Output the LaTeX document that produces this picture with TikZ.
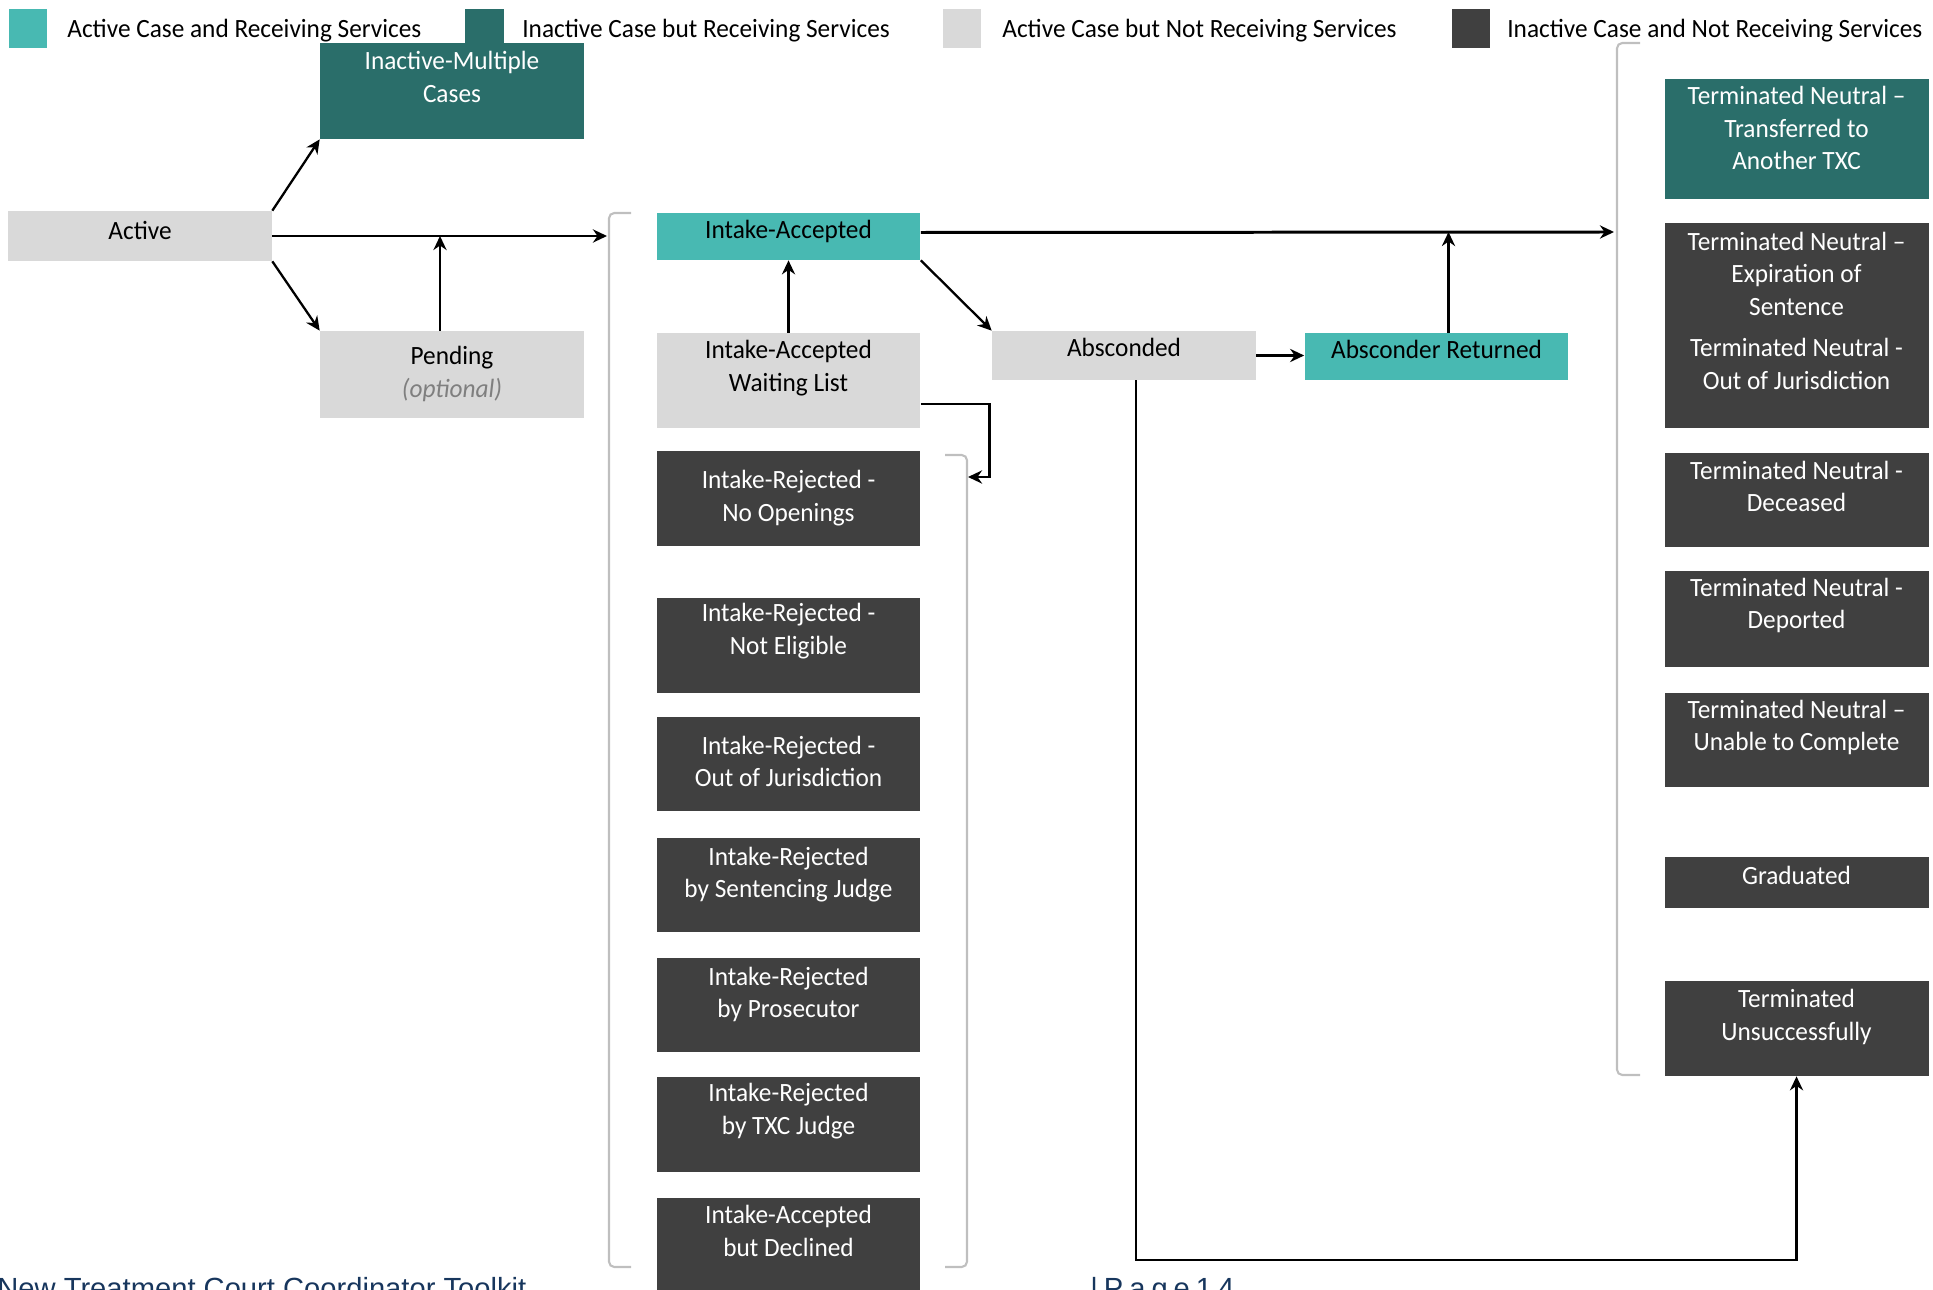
\documentclass[tikz,border=0pt]{standalone}
\usepackage{fontspec}
\setmainfont{Carlito}[FakeStretch=0.96]
\newfontfamily\footfont{Liberation Sans}
\usetikzlibrary{positioning,calc,arrows.meta}

\definecolor{ltteal}{RGB}{72,185,178}
\definecolor{dkteal}{RGB}{42,110,106}
\definecolor{ltgray}{RGB}{217,217,217}
\definecolor{dkgray}{RGB}{64,64,64}
\definecolor{brgray}{RGB}{191,191,191}
\definecolor{optgray}{RGB}{127,127,127}
\definecolor{footblue}{RGB}{23,54,93}

% text of a state box, optionally lifted towards the top
\newcommand{\boxtext}[2][0pt]{\raisebox{#1}[\height][\depth]{\begin{tabular}{@{}c@{}}#2\end{tabular}}}

\begin{document}
\begin{tikzpicture}[x=0.02cm,y=-0.02cm,
    font=\fontsize{15pt}{18.5pt}\selectfont,
    statebox/.style={rectangle,inner sep=0pt,minimum width=5.28cm,minimum height=1.9cm},
    ltbox/.style={statebox,fill=ltgray,text=black},
    acbox/.style={statebox,fill=ltteal,text=black},
    ibox/.style={statebox,fill=dkteal,text=white},
    dkbox/.style={statebox,fill=dkgray,text=white},
    swatch/.style={rectangle,inner sep=0pt,minimum size=0.77cm},
    legtxt/.style={inner sep=0pt,anchor=base west},
    foottxt/.style={inner sep=0pt,anchor=base west,text=footblue,font=\footfont\fontsize{16.6pt}{20pt}\selectfont},
    arr/.style={-{Stealth[length=8pt,width=7.5pt]},line width=1.3pt},
    bracket/.style={draw=brgray,line width=1.2pt,rounded corners=3pt}]
  \useasboundingbox (0,0) rectangle (1933,1290);

  % legend
  \node[swatch,fill=ltteal] (sw1) at (28,28.5) {};
  \node[swatch,fill=dkteal] (sw2) at (484.5,28.5) {};
  \node[swatch,fill=ltgray] (sw3) at (962,28.5) {};
  \node[swatch,fill=dkgray] (sw4) at (1471,28.5) {};
  \node[legtxt] (lg1) at (67,38) {Active Case and Receiving Services};
  \node[legtxt] (lg2) at (522,38) {Inactive Case but Receiving Services};
  \node[legtxt] (lg3) at (1002,38) {Active Case but Not Receiving Services};
  \node[legtxt] (lg4) at (1507,38) {Inactive Case and Not Receiving Services};

  % brackets
  \draw[bracket] (631,213) -- (609,213) -- (609,1267) -- (631,1267);
  \draw[bracket] (945,455) -- (967,455) -- (967,1267) -- (945,1267);
  \draw[bracket] (1640,43) -- (1617,43) -- (1617,1075) -- (1640,1075);

  % first column
  \node[ltbox,minimum height=1cm] (act) at (140,236) {\boxtext[1.5pt]{Active}};
  \node[ibox,minimum height=1.92cm] (imc) at (452,91) {\boxtext[6.5pt]{Inactive-Multiple\\Cases}};
  \node[ltbox,minimum height=1.74cm] (pend) at (452,374.5) {\boxtext{Pending\\{\color{optgray}\itshape (optional)}}};

  % intake column
  \node[acbox,minimum height=0.94cm] (ia) at (788.5,236.5) {\boxtext[2.5pt]{Intake-Accepted}};
  \node[ltbox] (iawl) at (788.5,380.5) {\boxtext[6.8pt]{Intake-Accepted\\Waiting List}};
  \node[dkbox] (ir1) at (788.5,498.5) {\boxtext{Intake-Rejected -\\No Openings}};
  \node[dkbox] (ir2) at (788.5,645.5) {\boxtext[8pt]{Intake-Rejected -\\Not Eligible}};
  \node[dkbox] (ir3) at (788.5,764) {\boxtext{Intake-Rejected -\\Out of Jurisdiction}};
  \node[dkbox] (ir4) at (788.5,885) {\boxtext[5.7pt]{Intake-Rejected\\by Sentencing Judge}};
  \node[dkbox] (ir5) at (788.5,1005) {\boxtext[5.7pt]{Intake-Rejected\\by Prosecutor}};
  \node[dkbox] (ir6) at (788.5,1124) {\boxtext[7pt]{Intake-Rejected\\by TXC Judge}};
  \node[dkbox] (ir7) at (788.5,1245) {\boxtext[6.5pt]{Intake-Accepted\\but Declined}};

  % absconding
  \node[ltbox,minimum height=0.98cm] (absc) at (1124,355.5) {\boxtext[3.4pt]{Absconded}};
  \node[acbox,minimum height=0.94cm] (absr) at (1436.5,356.5) {\boxtext[2.5pt]{Absconder Returned}};

  % exits
  \node[ibox,minimum height=2.4cm] (tn1) at (1796.5,139) {\boxtext[4.8pt]{Terminated Neutral --\\Transferred to\\Another TXC}};
  \node[dkbox,minimum height=4.1cm] (tn2) at (1796.5,325.5) {\boxtext[7pt]{Terminated Neutral --\\Expiration of\\Sentence\\[5pt]Terminated Neutral -\\Out of Jurisdiction}};
  \node[dkbox] (tn3) at (1796.5,500) {\boxtext[6.3pt]{Terminated Neutral -\\Deceased}};
  \node[dkbox,minimum height=1.92cm] (tn4) at (1796.5,619) {\boxtext[7.4pt]{Terminated Neutral -\\Deported}};
  \node[dkbox] (tn5) at (1796.5,740) {\boxtext[6.8pt]{Terminated Neutral --\\Unable to Complete}};
  \node[dkbox,minimum height=1.02cm] (grad) at (1796.5,882.5) {\boxtext[2.8pt]{Graduated}};
  \node[dkbox] (tu) at (1796.5,1028.5) {\boxtext[6.3pt]{Terminated\\Unsuccessfully}};

  % connectors
  \coordinate (lbr) at (607,236);
  \coordinate (rbr) at (1614,232);
  \coordinate (mbr) at (968,477);
  \draw[arr] (act.north east) -- (imc.south west);
  \draw[arr] (act.south east) -- (pend.north west);
  \draw[arr,line width=1.7pt] (act.east) -- (lbr);
  \draw[arr] ([xshift=-0.24cm]pend.north) -- ([xshift=-0.24cm]pend.north |- act.east);
  \draw[arr,line width=1.7pt] ([yshift=0.08cm]ia.east) -- (rbr);
  \draw[arr] (iawl.north) -- (ia.south);
  \draw[arr] (ia.south east) -- (absc.north west);
  \draw[arr,line width=1.6pt] ([yshift=-0.47cm]iawl.east) -- ++(69,0) |- (mbr);
  \draw[arr,line width=1.6pt] (absc.east) -- (absc.east -| absr.west);
  \draw[arr] ([xshift=0.24cm]absr.north) -- ([xshift=0.24cm]absr.north |- rbr);
  \draw[arr] ([xshift=0.24cm]absc.south) -- ++(0,880) -| (tu.south);

  % footer
  \node[foottxt] (foot) at (-3,1298) {New Treatment Court Coordinator Toolkit};
  \node[foottxt] (page) at (1090,1298) {\spaceskip=3.4pt | P a g e 1 4};
\end{tikzpicture}
\end{document}
